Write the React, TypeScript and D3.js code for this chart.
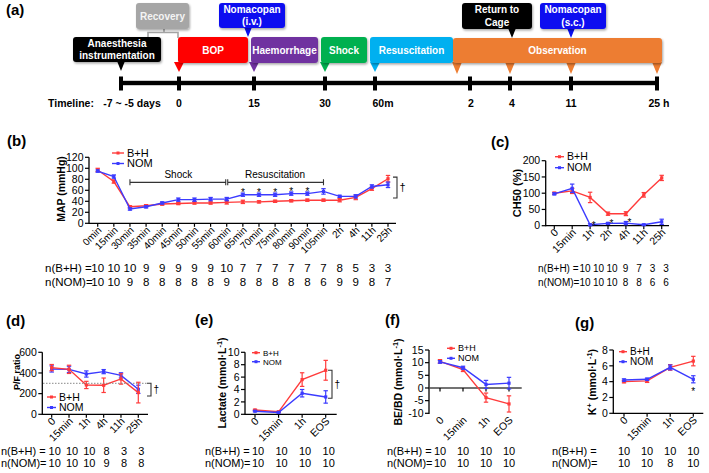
import React from "react";
import * as d3 from "d3";

const FONT = "'Liberation Sans', Arial, Helvetica, sans-serif";
const RED = "#ff3b3b";
const BLUE = "#3b3bff";

// ---------- (b) MAP ----------
const mapCats = ["0min", "15min", "30min", "35min", "40min", "45min", "50min", "55min", "60min", "65min", "70min", "75min", "80min", "90min", "105min", "2h", "4h", "11h", "25h"];
const mapBH = [97, 76, 30, 32, 35, 36, 37, 37, 38, 39, 39, 40, 41, 42, 42, 42, 47, 63, 81];
const mapBHErr = [3, 3, 2, 2, 2, 2, 2, 2, 3, 3, 2, 2, 2, 2, 2, 3, 4, 3, 6];
const mapNOM = [95, 85, 26, 30, 37, 43, 43, 44, 44, 52, 52, 52, 54, 54, 58, 49, 49, 67, 70];
const mapNOMErr = [2, 3, 2, 2, 2, 3, 3, 3, 3, 3, 3, 3, 3, 3, 5, 2, 3, 3, 5];
const mapNBH = [10, 10, 10, 9, 9, 9, 9, 9, 10, 7, 7, 7, 7, 7, 7, 8, 5, 3, 3];
const mapNNOM = [10, 10, 9, 8, 8, 8, 8, 8, 9, 8, 8, 8, 8, 8, 6, 9, 9, 8, 7];
const mapTicks = [0, 20, 40, 60, 80, 100, 120];
const mapStars = ["65min", "70min", "75min", "80min", "90min"];

// ---------- (c) CH50 ----------
const chCats = ["0", "15min", "1h", "2h", "4h", "11h", "25h"];
const chBH = [100, 107, 87, 37, 37, 95, 147];
const chBHErr = [3, 8, 16, 5, 6, 7, 8];
const chNOM = [98, 115, 3, 7, 8, 3, 12];
const chNOMErr = [3, 13, 3, 3, 5, 2, 8];
const chNBH = [10, 10, 10, 9, 7, 3, 3];
const chNNOM = [10, 10, 10, 8, 8, 6, 6];
const chTicks = [0, 50, 100, 150, 200];
const chStars = ["1h", "2h", "4h"];

// ---------- (d) P/F ratio ----------
const pfCats = ["0", "15min", "1h", "4h", "11h", "25h"];
const pfBH = [452, 435, 284, 281, 342, 210];
const pfBHErr = [30, 40, 35, 70, 50, 100];
const pfNOM = [439, 435, 390, 413, 377, 242];
const pfNOMErr = [30, 30, 30, 20, 25, 40];
const pfNBH = [10, 10, 10, 8, 3, 3];
const pfNNOM = [10, 10, 10, 9, 8, 8];
const pfTicks = [0, 200, 400, 600];

// ---------- (e) Lactate ----------
const lacCats = ["0", "15min", "1h", "EOS"];
const lacBH = [0.7, 0.4, 5.6, 7.1];
const lacBHErr = [0.1, 0.1, 1.1, 1.6];
const lacNOM = [0.5, 0.3, 3.4, 2.8];
const lacNOMErr = [0.1, 0.1, 0.6, 1.0];
const lacNBH = [10, 10, 10, 10];
const lacNNOM = [10, 10, 10, 10];
const lacTicks = [0, 2, 4, 6, 8, 10];

// ---------- (f) BE/BD ----------
const beCats = ["0", "15min", "1h", "EOS"];
const beBH = [10.5, 7.3, -3.8, -6.3];
const beBHErr = [0.7, 0.8, 1.8, 3.2];
const beNOM = [10.3, 8.0, 1.4, 1.9];
const beNOMErr = [0.5, 0.6, 1.6, 2.3];
const beNBH = [10, 10, 10, 10];
const beNNOM = [10, 10, 10, 10];
const beTicks = [-10, -5, 0, 5, 10, 15];

// ---------- (g) K+ ----------
const kCats = ["0", "15min", "1h", "EOS"];
const kBH = [4.0, 4.1, 5.8, 6.6];
const kBHErr = [0.15, 0.2, 0.35, 0.6];
const kNOM = [4.2, 4.3, 5.8, 4.3];
const kNOMErr = [0.15, 0.15, 0.3, 0.45];
const kNBH = [10, 10, 10, 10];
const kNNOM = [10, 10, 8, 10];
const kTicks = [0, 2, 4, 6, 8];

// ---------- (a) timeline ----------
const tlLabels = ["-7 ~ -5 days", "0", "15", "30", "60m", "2", "4", "11", "25 h"];

type Scales = { x: d3.ScalePoint<string>; y: d3.ScaleLinear<number, number> };

interface ChartProps {
  cats: string[];
  red: number[]; redErr: number[];
  blue: number[]; blueErr: number[];
  nBH: number[]; nNOM: number[];
  ax0: number; ax1: number; p0: number; p1: number;
  yDom: [number, number]; yRng: [number, number]; yTicks: number[];
  xAxisVal: number;
  labelsBottom?: boolean;
  ylabel: React.ReactNode; ylx: number; yly: number; ylSize: number;
  legend: { x: number; y: number; dy: number; size: number; len: number };
  nRow: { labelX: number; y1: number; y2: number; size: number; xs?: number[]; off?: number; lBH: string; lNOM: string };
  xlabSize: number; ytickSize: number;
  redOnTop?: boolean;
  extra?: (s: Scales) => React.ReactNode;
}

function Chart(p: ChartProps) {
  const x = d3.scalePoint<string>().domain(p.cats).range([p.p0, p.p1]);
  const y = d3.scaleLinear().domain(p.yDom).range(p.yRng);
  const axisY = y(p.xAxisVal);
  const labBase = p.labelsBottom ? y(p.yDom[0]) : axisY;
  const lineGen = d3.line<number>().x((_, i) => x(p.cats[i]) as number).y((d) => y(d));
  const series = [
    { vals: p.red, err: p.redErr, color: RED, key: "r" },
    { vals: p.blue, err: p.blueErr, color: BLUE, key: "b" },
  ];
  const ordered = p.redOnTop ? [series[1], series[0]] : series;
  const nx = (i: number) => (p.nRow.xs ? p.nRow.xs[i] : (x(p.cats[i]) as number) + (p.nRow.off || 0));
  return (
    <g fontFamily={FONT} fill="#000">
      {/* y axis */}
      <line x1={p.ax0} x2={p.ax0} y1={y(p.yDom[0]) + 0.6} y2={y(p.yDom[1])} stroke="#000" strokeWidth={1.3} />
      {p.yTicks.map((t) => (
        <g key={"yt" + t}>
          <line x1={p.ax0 - 4} x2={p.ax0} y1={y(t)} y2={y(t)} stroke="#000" strokeWidth={1.2} />
          <text x={p.ax0 - 5.5} y={y(t)} dy="0.35em" textAnchor="end" fontSize={p.ytickSize} fill="#000">{t}</text>
        </g>
      ))}
      {/* x axis */}
      <line x1={p.ax0} x2={p.ax1} y1={axisY} y2={axisY} stroke={p.labelsBottom ? "#444" : "#000"} strokeWidth={1.3} />
      {p.cats.map((c) => (
        <line key={"xt" + c} x1={x(c)} x2={x(c)} y1={axisY} y2={axisY + 3.5} stroke="#000" strokeWidth={1.2} />
      ))}
      {p.cats.map((c) => (
        <text key={"xl" + c} transform={`translate(${(x(c) as number) + 4.5},${labBase + 7.5}) rotate(-45)`} textAnchor="end" fontSize={p.xlabSize}>{c}</text>
      ))}
      {/* y label */}
      <text transform={`translate(${p.ylx},${p.yly}) rotate(-90)`} textAnchor="middle" dy="0.35em" fontSize={p.ylSize} fontWeight="bold">{p.ylabel}</text>
      {/* series */}
      {ordered.map((s) => (
        <g key={s.key}>
          <path d={lineGen(s.vals) || ""} fill="none" stroke={s.color} strokeWidth={1.4} />
          {s.vals.map((v, i) => {
            const cx = x(p.cats[i]) as number;
            const e = s.err[i];
            return (
              <g key={i} stroke={s.color} strokeWidth={1.2}>
                <line x1={cx} x2={cx} y1={y(v - e)} y2={y(v + e)} />
                <line x1={cx - 2.2} x2={cx + 2.2} y1={y(v - e)} y2={y(v - e)} />
                <line x1={cx - 2.2} x2={cx + 2.2} y1={y(v + e)} y2={y(v + e)} />
                <rect x={cx - 1.6} y={y(v) - 1.6} width={3.2} height={3.2} fill={s.color} stroke="none" />
              </g>
            );
          })}
        </g>
      ))}
      {/* legend */}
      {[{ c: RED, t: "B+H" }, { c: BLUE, t: "NOM" }].map((l, i) => {
        const ly = p.legend.y + i * p.legend.dy;
        return (
          <g key={l.t}>
            <line x1={p.legend.x} x2={p.legend.x + p.legend.len} y1={ly} y2={ly} stroke={l.c} strokeWidth={1.4} />
            <rect x={p.legend.x + p.legend.len / 2 - 1.5} y={ly - 1.5} width={3} height={3} fill={l.c} />
            <text x={p.legend.x + p.legend.len + 3} y={ly} dy="0.35em" fontSize={p.legend.size}>{l.t}</text>
          </g>
        );
      })}
      {/* n rows */}
      <g fontSize={p.nRow.size}>
        <text x={p.nRow.labelX} y={p.nRow.y1}>{p.nRow.lBH}</text>
        <text x={p.nRow.labelX} y={p.nRow.y2}>{p.nRow.lNOM}</text>
        {p.nBH.map((n, i) => (
          <text key={"nb" + i} x={nx(i)} y={p.nRow.y1} textAnchor="middle">{n}</text>
        ))}
        {p.nNOM.map((n, i) => (
          <text key={"nn" + i} x={nx(i)} y={p.nRow.y2} textAnchor="middle">{n}</text>
        ))}
      </g>
      {p.extra ? p.extra({ x, y }) : null}
    </g>
  );
}

function Dagger({ x, y0, y1, size = 11 }: { x: number; y0: number; y1: number; size?: number }) {
  return (
    <g>
      <path d={`M${x},${y0} H${x + 4} V${y1} H${x}`} fill="none" stroke="#333" strokeWidth={1.1} />
      <text x={x + 6.5} y={(y0 + y1) / 2} dy="0.35em" fontSize={size} fontFamily={FONT}>†</text>
    </g>
  );
}

function Unit({ pre }: { pre: React.ReactNode }) {
  return (
    <>
      {pre}
      {" (mmol·L"}
      <tspan dy="-4" fontSize="0.7em">-1</tspan>
      <tspan dy="4">)</tspan>
    </>
  );
}

function Box({ x, y, w, h, fill, lines, color = "#fff" }: { x: number; y: number; w: number; h: number; fill: string; lines: string[]; color?: string }) {
  const cy = y + h / 2;
  return (
    <g>
      <rect x={x} y={y} width={w} height={h} rx={3} fill={fill} filter="url(#sh)" />
      {lines.length === 1 ? (
        <text x={x + w / 2} y={cy} dy="0.36em" textAnchor="middle" fill={color} fontSize={10} fontWeight="bold">{lines[0]}</text>
      ) : (
        lines.map((l, i) => (
          <text key={i} x={x + w / 2} y={cy + (i === 0 ? -6.2 : 6.2)} dy="0.36em" textAnchor="middle" fill={color} fontSize={10} fontWeight="bold">{l}</text>
        ))
      )}
    </g>
  );
}

function Tri({ x, y0, y1, w, fill }: { x: number; y0: number; y1: number; w: number; fill: string }) {
  return <path d={`M${x - w / 2},${y0} L${x + w / 2},${y0} L${x},${y1} Z`} fill={fill} />;
}

function Timeline() {
  // piecewise layout of the schematic timeline
  const tx = d3.scaleLinear().domain(d3.range(tlLabels.length)).range([121, 179, 254, 325, 375, 470, 510, 571, 657]);
  const lblX = [132, 179, 254, 325, 383, 471, 512, 571, 659];
  const lineY = 83;
  return (
    <g fontFamily={FONT}>
      <text x={6} y={15} fontSize={15} fontWeight="bold">(a)</text>
      {/* recovery bracket */}
      <path d="M148,38 V32.5 H178 V38 M164,32.5 V29" fill="none" stroke="#a6a6a6" strokeWidth={1.6} />
      {/* timeline */}
      <rect x={tx(0)} y={lineY - 2.2} width={tx(8) - tx(0)} height={4.4} fill="#000" />
      {tlLabels.map((_, i) => (
        <rect key={i} x={tx(i) - 2} y={lineY - 6.5} width={4} height={14} fill="#000" />
      ))}
      <text x={48} y={107} fontSize={10.5} fontWeight="bold">Timeline:</text>
      {tlLabels.map((l, i) => (
        <text key={"l" + i} x={lblX[i]} y={107} textAnchor="middle" fontSize={10.5} fontWeight="bold">{l}</text>
      ))}
      {/* pointers under main row */}
      <Tri x={tx(0)} y0={61} y1={71} w={8} fill="#000" />
      <Tri x={tx(1)} y0={62} y1={72} w={10} fill="#ff0000" />
      <Tri x={tx(2)} y0={62} y1={72} w={10} fill="#7030a0" />
      <Tri x={tx(3)} y0={62} y1={72} w={10} fill="#00b050" />
      <Tri x={tx(4)} y0={62} y1={72} w={10} fill="#00b0f0" />
      <Tri x={457} y0={62} y1={74} w={10} fill="#ed7d31" />
      <Tri x={tx(6)} y0={62} y1={74} w={10} fill="#ed7d31" />
      <Tri x={tx(7)} y0={62} y1={74} w={10} fill="#ed7d31" />
      <Tri x={tx(8)} y0={62} y1={74} w={10} fill="#ed7d31" />
      {/* top row pointers */}
      <Tri x={248} y0={27} y1={37} w={8} fill="#0b10f0" />
      <Tri x={tx(6) + 2} y0={28} y1={38} w={8} fill="#000" />
      <Tri x={tx(7)} y0={28} y1={38} w={8} fill="#0b10f0" />
      {/* boxes */}
      <Box x={73} y={37} w={88} h={25} fill="#000" lines={["Anaesthesia", "instrumentation"]} />
      <Box x={136} y={3} w={53} h={26} fill="#a6a6a6" lines={["Recovery"]} color="#f4f4f4" />
      <Box x={178} y={37} w={70} h={26} fill="#ff0000" lines={["BOP"]} />
      <Box x={219} y={3} w={66} h={25} fill="#0b10f0" lines={["Nomacopan", "(i.v.)"]} />
      <Box x={251} y={37} w={67} h={26} fill="#7030a0" lines={["Haemorrhage"]} />
      <Box x={321} y={37} w={46} h={26} fill="#00b050" lines={["Shock"]} />
      <Box x={370} y={37} w={83} h={26} fill="#00b0f0" lines={["Resuscitation"]} />
      <Box x={453} y={38} w={209} h={25} fill="#ed7d31" lines={["Observation"]} />
      <Box x={462} y={3} w={70} h={26} fill="#000" lines={["Return to", "Cage"]} />
      <Box x={540} y={3} w={66} h={26} fill="#0b10f0" lines={["Nomacopan", "(s.c.)"]} />
    </g>
  );
}

export default function App() {
  return (
    <svg width={709} height={473} viewBox="0 0 709 473" style={{ position: "absolute", left: 0, top: 0, background: "#fff" }}>
      <defs>
        <filter id="sh" x="-10%" y="-10%" width="130%" height="140%">
          <feDropShadow dx="1" dy="1.5" stdDeviation="0.8" floodColor="#000" floodOpacity="0.35" />
        </filter>
      </defs>
      <rect width={709} height={473} fill="#fff" />
      <Timeline />

      {/* panel labels */}
      <g fontFamily={FONT} fontWeight="bold" fontSize={15}>
        <text x={7} y={146}>(b)</text>
        <text x={491} y={147}>(c)</text>
        <text x={6} y={326}>(d)</text>
        <text x={195} y={325}>(e)</text>
        <text x={385} y={325}>(f)</text>
        <text x={575} y={328}>(g)</text>
      </g>

      {/* (b) */}
      <Chart
        cats={mapCats} red={mapBH} redErr={mapBHErr} blue={mapNOM} blueErr={mapNOMErr}
        nBH={mapNBH} nNOM={mapNNOM}
        ax0={89} ax1={396} p0={97.7} p1={388} yDom={[0, 120]} yRng={[223.3, 157.3]} yTicks={mapTicks}
        xAxisVal={0} ylabel="MAP (mmHg)" ylx={61} yly={189} ylSize={10.5}
        legend={{ x: 112, y: 153, dy: 10.5, size: 11, len: 12 }}
        nRow={{ labelX: 45, y1: 271.5, y2: 285.5, size: 11.5, lBH: "n(B+H) =", lNOM: "n(NOM)=" }}
        xlabSize={10} ytickSize={10.5}
        extra={({ x, y }) => {
          const xa = x("30min") as number, xb = x("60min") as number, xc = x("105min") as number;
          const by = y(74.5);
          return (
            <g fontFamily={FONT}>
              <g stroke="#333" strokeWidth={1.1} fill="none">
                <path d={`M${xa},${by - 3} V${by + 3} M${xa},${by} H${xb - 1} M${xb - 1},${by - 3} V${by + 3} M${xb + 1},${by - 3} V${by + 3} M${xb + 1},${by} H${xc} M${xc},${by - 3} V${by + 3}`} />
              </g>
              <text x={(xa + xb) / 2} y={by - 4} textAnchor="middle" fontSize={10}>Shock</text>
              <text x={(xb + xc) / 2} y={by - 4} textAnchor="middle" fontSize={10}>Resuscitation</text>
              {mapStars.map((c) => {
                const i = mapCats.indexOf(c);
                return <text key={c} x={x(c)} y={y(mapNOM[i] + mapNOMErr[i]) + 3} textAnchor="middle" fontSize={10}>*</text>;
              })}
              <Dagger x={393} y0={y(84)} y1={y(46)} />
            </g>
          );
        }}
      />

      {/* (c) */}
      <Chart
        cats={chCats} red={chBH} redErr={chBHErr} blue={chNOM} blueErr={chNOMErr}
        nBH={chNBH} nNOM={chNNOM}
        ax0={545.7} ax1={669} p0={554.3} p1={661.7} yDom={[0, 200]} yRng={[225.7, 160.7]} yTicks={chTicks}
        xAxisVal={0} ylabel="CH50 (%)" ylx={517} yly={193} ylSize={11}
        legend={{ x: 555, y: 156.7, dy: 11, size: 10.5, len: 9 }}
        nRow={{ labelX: 538, y1: 272, y2: 285.5, size: 10, xs: [585, 598.5, 612, 625.5, 639, 652.5, 666], lBH: "n(B+H) =", lNOM: "n(NOM)=" }}
        xlabSize={10.5} ytickSize={10.5}
        extra={({ x, y }) => (
          <g fontFamily={FONT}>
            {chStars.map((c) => {
              const i = chCats.indexOf(c);
              return <text key={c} x={(x(c) as number) + 3.5} y={y(chNOM[i] + chNOMErr[i]) + 5} textAnchor="middle" fontSize={10}>*</text>;
            })}
          </g>
        )}
      />

      {/* (d) */}
      <Chart
        cats={pfCats} red={pfBH} redErr={pfBHErr} blue={pfNOM} blueErr={pfNOMErr}
        nBH={pfNBH} nNOM={pfNNOM}
        ax0={42.3} ax1={148} p0={51.7} p1={138.3} yDom={[0, 600]} yRng={[414.3, 352.3]} yTicks={pfTicks}
        xAxisVal={0} ylabel="P/F ratio" ylx={17} yly={372} ylSize={9}
        legend={{ x: 47, y: 397, dy: 10.5, size: 10.5, len: 9 }}
        nRow={{ labelX: 1, y1: 454.5, y2: 467, size: 11, off: 3, lBH: "n(B+H) =", lNOM: "n(NOM)=" }}
        xlabSize={10.5} ytickSize={10.5} redOnTop
        extra={({ y }) => (
          <g>
            <line x1={43} x2={148} y1={y(300)} y2={y(300)} stroke="#888" strokeWidth={1} strokeDasharray="1.5,1.5" />
            <Dagger x={147} y0={y(300)} y1={y(177)} size={10} />
          </g>
        )}
      />

      {/* (e) */}
      <Chart
        cats={lacCats} red={lacBH} redErr={lacBHErr} blue={lacNOM} blueErr={lacNOMErr}
        nBH={lacNBH} nNOM={lacNNOM}
        ax0={245} ax1={336.7} p0={255} p1={325.7} yDom={[0, 10]} yRng={[414.3, 352.3]} yTicks={lacTicks}
        xAxisVal={0} ylabel={<Unit pre="Lactate" />} ylx={222} yly={383} ylSize={10.5}
        legend={{ x: 252, y: 352.7, dy: 9, size: 8, len: 8 }}
        nRow={{ labelX: 205, y1: 454.5, y2: 467, size: 11, off: 3, lBH: "n(B+H) =", lNOM: "n(NOM)=" }}
        xlabSize={10.5} ytickSize={10.5}
        extra={({ y }) => <Dagger x={328} y0={y(7.1)} y1={y(2.6)} size={10} />}
      />

      {/* (f) */}
      <Chart
        cats={beCats} red={beBH} redErr={beBHErr} blue={beNOM} blueErr={beNOMErr}
        nBH={beNBH} nNOM={beNNOM}
        ax0={429} ax1={521.7} p0={440} p1={509} yDom={[-10, 15]} yRng={[413.3, 350]} yTicks={beTicks}
        xAxisVal={0} labelsBottom ylabel={<Unit pre="BE/BD" />} ylx={398} yly={382} ylSize={10.5}
        legend={{ x: 447, y: 348.3, dy: 10, size: 9, len: 8 }}
        nRow={{ labelX: 387, y1: 454.5, y2: 467, size: 11, off: 0, lBH: "n(B+H) =", lNOM: "n(NOM)=" }}
        xlabSize={10.5} ytickSize={10.5}
      />

      {/* (g) */}
      <Chart
        cats={kCats} red={kBH} redErr={kBHErr} blue={kNOM} blueErr={kNOMErr}
        nBH={kNBH} nNOM={kNNOM}
        ax0={613.3} ax1={703.3} p0={624} p1={693.3} yDom={[0, 8]} yRng={[413.3, 350]} yTicks={kTicks}
        xAxisVal={0}
        ylabel={<>K<tspan dy="-4" fontSize="0.7em">+</tspan><tspan dy="4">{" (mmol·L"}</tspan><tspan dy="-4" fontSize="0.7em">-1</tspan><tspan dy="4">)</tspan></>}
        ylx={592} yly={382} ylSize={10.5}
        legend={{ x: 619, y: 351.7, dy: 10, size: 10, len: 8 }}
        nRow={{ labelX: 552, y1: 454.5, y2: 467, size: 11, off: 0, lBH: "n(B+H) =", lNOM: "n(NOM)=" }}
        xlabSize={10.5} ytickSize={10.5}
        extra={({ x, y }) => (
          <text x={x("EOS")} y={y(kNOM[3] - kNOMErr[3]) + 12} textAnchor="middle" fontSize={10} fontFamily={FONT}>*</text>
        )}
      />
    </svg>
  );
}
